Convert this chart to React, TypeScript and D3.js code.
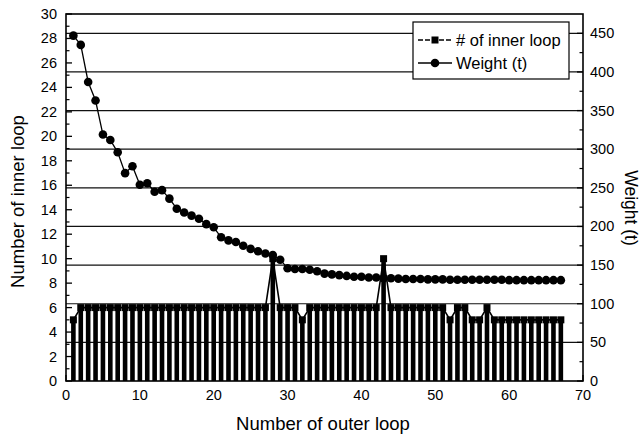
import React from "react";
import * as d3 from "d3";

const outerLoop: number[] = d3.range(1, 68);
const innerLoop: number[] = [
  5, 6, 6, 6, 6, 6, 6, 6, 6, 6,
  6, 6, 6, 6, 6, 6, 6, 6, 6, 6,
  6, 6, 6, 6, 6, 6, 6, 10, 6, 6,
  6, 5, 6, 6, 6, 6, 6, 6, 6, 6,
  6, 6, 10, 6, 6, 6, 6, 6, 6, 6,
  6, 5, 6, 6, 5, 5, 6, 5, 5, 5,
  5, 5, 5, 5, 5, 5, 5,
];
const weight: number[] = [
  447, 435, 387, 363, 319, 312, 296, 269, 278, 254,
  256, 245, 247, 236, 223, 218, 214, 210, 203, 199,
  186, 182, 180, 175, 171, 168, 165, 163, 157, 146,
  145, 145, 144, 142, 139, 138, 137, 136, 135, 135,
  134, 134, 133, 133, 132.5, 132, 132, 132, 131.5, 131.5,
  131.5, 131, 131, 131, 131, 131, 131, 131, 131, 130.5,
  130.5, 130.5, 130.5, 130.5, 130.5, 130.5, 130.5,
];
const xTicks: number[] = [0, 10, 20, 30, 40, 50, 60, 70];
const leftTicks: number[] = d3.range(0, 31, 2);
const rightTicks: number[] = d3.range(0, 451, 50);
const legendLabels: string[] = ["# of inner loop", "Weight (t)"];

const FONT = "'Liberation Sans', Arial, Helvetica, sans-serif";

export default function App() {
  const L = 66, R = 583, T = 14, B = 381;
  const x = d3.scaleLinear().domain([0, 70]).range([L, R]);
  const yL = d3.scaleLinear().domain([0, 30]).range([B, T]);
  const yR = d3.scaleLinear().domain([0, 475]).range([B, T]);

  const innerLine = d3
    .line<number>()
    .x((_, i) => x(outerLoop[i]))
    .y((d) => yL(d));
  const weightLine = d3
    .line<number>()
    .x((_, i) => x(outerLoop[i]))
    .y((d) => yR(d));

  const leftMinor = d3.range(1, 30, 2);
  const rightMinor = d3.range(25, 475, 50);
  const xMinor = d3.range(5, 70, 10);

  const barW = 4.6;
  const sq = 7;

  return (
    <svg
      width={644}
      height={436}
      style={{ position: "absolute", left: 0, top: 0, background: "#fff" }}
      fontFamily={FONT}
    >
      <rect x={0} y={0} width={644} height={436} fill="#fff" />
      {/* gridlines */}
      {rightTicks
        .filter((t) => t > 0)
        .map((t) => (
          <line key={"g" + t} x1={L} x2={R} y1={yR(t)} y2={yR(t)} stroke="#111" strokeWidth={1.2} />
        ))}
      {/* drop bars */}
      {innerLoop.map((v, i) => (
        <rect
          key={"b" + i}
          x={x(outerLoop[i]) - barW / 2}
          y={yL(v)}
          width={barW}
          height={B - yL(v)}
          fill="#000"
        />
      ))}
      <path d={innerLine(innerLoop) || ""} fill="none" stroke="#000" strokeWidth={1.6} />
      {innerLoop.map((v, i) => (
        <rect
          key={"s" + i}
          x={x(outerLoop[i]) - sq / 2}
          y={yL(v) - sq / 2}
          width={sq}
          height={sq}
          fill="#000"
        />
      ))}
      <path d={weightLine(weight) || ""} fill="none" stroke="#000" strokeWidth={1.3} />
      {weight.map((v, i) => (
        <circle key={"c" + i} cx={x(outerLoop[i])} cy={yR(v)} r={4.3} fill="#000" />
      ))}

      {/* legend */}
      <rect x={413} y={22} width={156} height={57} fill="#fff" stroke="#000" strokeWidth={1.2} />
      <line x1={418} x2={452} y1={40} y2={40} stroke="#000" strokeWidth={1.4} strokeDasharray="5,2" />
      <rect x={435 - sq / 2} y={40 - sq / 2} width={sq} height={sq} fill="#000" />
      <text x={456} y={46} fontSize={16.5} fill="#000">{legendLabels[0]}</text>
      <line x1={418} x2={452} y1={63} y2={63} stroke="#000" strokeWidth={1.4} />
      <circle cx={435} cy={63} r={4.3} fill="#000" />
      <text x={456} y={69} fontSize={16.5} fill="#000">{legendLabels[1]}</text>

      {/* frame */}
      <rect x={L} y={T} width={R - L} height={B - T} fill="none" stroke="#000" strokeWidth={1.6} />

      {/* left axis ticks */}
      {leftTicks.map((t) => (
        <g key={"l" + t}>
          <line x1={L} x2={L + 6} y1={yL(t)} y2={yL(t)} stroke="#000" strokeWidth={1.3} />
          <text x={57} y={yL(t) + 5} fontSize={14.5} textAnchor="end" fill="#000">{t}</text>
        </g>
      ))}
      {leftMinor.map((t) => (
        <line key={"lm" + t} x1={L} x2={L + 3.5} y1={yL(t)} y2={yL(t)} stroke="#000" strokeWidth={1.2} />
      ))}
      {/* right axis ticks */}
      {rightTicks.map((t) => (
        <g key={"r" + t}>
          <line x1={R - 6} x2={R} y1={yR(t)} y2={yR(t)} stroke="#000" strokeWidth={1.3} />
          <text x={590} y={yR(t) + 5} fontSize={14.5} textAnchor="start" fill="#000">{t}</text>
        </g>
      ))}
      {rightMinor.map((t) => (
        <line key={"rm" + t} x1={R - 3.5} x2={R} y1={yR(t)} y2={yR(t)} stroke="#000" strokeWidth={1.2} />
      ))}
      {/* bottom axis ticks */}
      {xTicks.map((t) => (
        <g key={"x" + t}>
          <line x1={x(t)} x2={x(t)} y1={B} y2={B - 6} stroke="#000" strokeWidth={1.3} />
          <text x={x(t)} y={400} fontSize={14.5} textAnchor="middle" fill="#000">{t}</text>
        </g>
      ))}
      {xMinor.map((t) => (
        <line key={"xm" + t} x1={x(t)} x2={x(t)} y1={B} y2={B - 3.5} stroke="#000" strokeWidth={1.2} />
      ))}

      {/* titles */}
      <text x={323} y={430} fontSize={18.5} textAnchor="middle" fill="#000">Number of outer loop</text>
      <text
        transform={`translate(24,${(T + B) / 2 + 4}) rotate(-90)`}
        fontSize={18.5}
        textAnchor="middle"
        fill="#000"
      >
        Number of inner loop
      </text>
      <text
        transform={`translate(625,208) rotate(90)`}
        fontSize={17.5}
        textAnchor="middle"
        fill="#000"
      >
        Weight (t)
      </text>
    </svg>
  );
}
